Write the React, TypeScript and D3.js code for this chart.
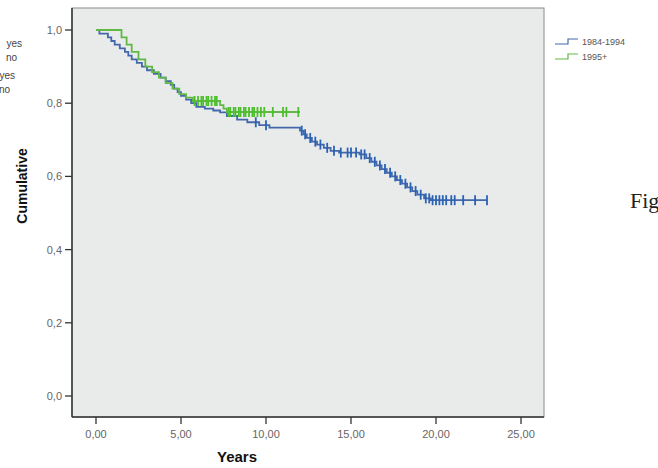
import React from 'react';
import * as d3 from 'd3';

// Kaplan-Meier steps: [time in years, cumulative survival]
const blueSteps: [number, number][] = [
  [0, 1.0], [0.2, 0.99], [0.7, 0.98], [0.9, 0.97], [1.1, 0.96], [1.4, 0.95], [1.7, 0.94],
  [1.9, 0.93], [2.1, 0.92], [2.4, 0.91], [2.7, 0.9], [3.0, 0.89], [3.4, 0.88], [3.8, 0.87],
  [4.1, 0.86], [4.4, 0.85], [4.6, 0.84], [4.8, 0.83], [5.0, 0.82], [5.3, 0.81], [5.6, 0.8],
  [5.9, 0.79], [6.4, 0.785], [6.9, 0.78], [7.3, 0.775], [7.7, 0.765], [8.3, 0.755], [8.9, 0.748],
  [9.6, 0.74], [10.2, 0.733], [12.0, 0.725], [12.2, 0.715], [12.4, 0.705], [12.7, 0.695],
  [13.0, 0.687], [13.4, 0.678], [13.8, 0.67], [14.3, 0.665], [15.5, 0.66], [15.9, 0.65],
  [16.2, 0.64], [16.5, 0.63], [16.8, 0.62], [17.1, 0.61], [17.4, 0.6], [17.7, 0.59], [18.0, 0.58],
  [18.3, 0.57], [18.6, 0.56], [18.9, 0.55], [19.3, 0.54], [19.7, 0.535], [23.0, 0.535],
];
const greenSteps: [number, number][] = [
  [0, 1.0], [1.5, 0.98], [1.8, 0.96], [2.1, 0.94], [2.5, 0.92], [2.9, 0.9], [3.3, 0.885],
  [3.7, 0.87], [4.1, 0.855], [4.5, 0.84], [4.9, 0.825], [5.3, 0.815], [5.7, 0.806], [7.3, 0.795],
  [7.5, 0.785], [7.7, 0.776], [12.0, 0.776],
];
const blueCensored = [
  9.4, 10.0, 12.1, 12.3, 12.6, 12.9, 13.2, 13.6, 14.0, 14.4, 14.8, 15.0, 15.3, 15.6, 15.8, 16.1,
  16.4, 16.7, 17.0, 17.3, 17.6, 17.9, 18.2, 18.5, 18.8, 19.1, 19.4, 19.6, 19.8, 20.0, 20.2, 20.4,
  20.6, 20.9, 21.1, 21.6, 22.3, 23.0,
];
const greenCensored = [
  5.8, 6.0, 6.2, 6.3, 6.5, 6.6, 6.8, 7.0, 7.1, 7.8, 7.9, 8.1, 8.2, 8.4, 8.5, 8.7, 8.8, 9.0, 9.2,
  9.3, 9.5, 9.7, 9.9, 10.4, 11.0, 11.2, 11.9,
];
const xTicks = [0, 5, 10, 15, 20, 25];
const yTicks = [0, 0.2, 0.4, 0.6, 0.8, 1.0];
const legendLabels = ['1984-1994', '1995+'];
const cutLabels = ['yes', 'no', 'yes', 'no'];

const BLUE = '#4468ab';
const BLUE_MARK = '#2a62b4';
const GREEN = '#62b845';
const GREEN_MARK = '#4cbf2c';

const frame = { left: 72, top: 8, right: 544, bottom: 417 };

export default function App() {
  const x = d3.scaleLinear().domain([0, 25]).range([96, 521]);
  const y = d3.scaleLinear().domain([0, 1]).range([396, 30]);
  const line = d3.line<[number, number]>().x(d => x(d[0])).y(d => y(d[1])).curve(d3.curveStepAfter);

  const survAt = (steps: [number, number][], t: number) => {
    let v = steps[0][1];
    for (const s of steps) if (s[0] <= t) v = s[1];
    return v;
  };

  const fmtX = (v: number) => v.toFixed(2).replace('.', ',');
  const fmtY = (v: number) => v.toFixed(1).replace('.', ',');

  const series = [
    { steps: blueSteps, cens: blueCensored, color: BLUE, mark: BLUE_MARK },
    { steps: greenSteps, cens: greenCensored, color: GREEN, mark: GREEN_MARK },
  ];

  return (
    <svg width={658} height={468} style={{ position: 'absolute', left: 0, top: 0, background: '#fff' }}
      fontFamily="'Liberation Sans', Arial, sans-serif">
      {/* cut-off legend text from neighbouring figure */}
      {cutLabels.map((l, i) => (
        <text key={i} x={[22, 17, 15, 10][i]} y={[47, 61, 79, 93][i]} textAnchor="end" fontSize={10} fill="#444">{l}</text>
      ))}

      <rect x={frame.left} y={frame.top} width={frame.right - frame.left} height={frame.bottom - frame.top}
        fill="#e9ebea" stroke="#8a8a8a" strokeWidth={1} />
      <line x1={frame.left} x2={frame.left} y1={frame.top} y2={frame.bottom} stroke="#333" strokeWidth={1.5} />
      <line x1={frame.left} x2={frame.right} y1={frame.bottom} y2={frame.bottom} stroke="#333" strokeWidth={1.5} />

      {yTicks.map(t => (
        <g key={t}>
          <line x1={65} x2={frame.left} y1={y(t)} y2={y(t)} stroke="#333" strokeWidth={1.3} />
          <text x={62} y={y(t) + 4} textAnchor="end" fontSize={11} fill="#666">{fmtY(t)}</text>
        </g>
      ))}
      {xTicks.map(t => (
        <g key={t}>
          <line x1={x(t)} x2={x(t)} y1={frame.bottom} y2={424} stroke="#333" strokeWidth={1.3} />
          <text x={x(t)} y={438} textAnchor="middle" fontSize={11} fill="#666">{fmtX(t)}</text>
        </g>
      ))}

      {series.map((s, i) => (
        <g key={i}>
          <path d={line(s.steps) ?? ''} fill="none" stroke={s.color} strokeWidth={1.8} />
          {s.cens.map((c, j) => (
            <line key={j} x1={x(c)} x2={x(c)} y1={y(survAt(s.steps, c)) - 5} y2={y(survAt(s.steps, c)) + 5}
              stroke={s.mark} strokeWidth={1.8} />
          ))}
        </g>
      ))}

      <text x={237} y={462} textAnchor="middle" fontSize={15} fontWeight="bold" fill="#111">Years</text>
      <text transform="translate(27,186) rotate(-90)" textAnchor="middle" fontSize={14} fontWeight="bold" fill="#111">Cumulative</text>

      {legendLabels.map((l, i) => {
        const ly = [42, 57][i];
        const c = i === 0 ? BLUE : GREEN;
        return (
          <g key={l}>
            <path d={`M555,${ly + 2}H568V${ly - 3}H578`} fill="none" stroke={c} strokeWidth={1.2} />
            <text x={582} y={ly + 3} fontSize={9} fill="#555">{l}</text>
          </g>
        );
      })}

      <text x={630} y={208} fontFamily="'Liberation Serif', 'Times New Roman', serif" fontSize={22} fill="#222">Fig</text>
    </svg>
  );
}
